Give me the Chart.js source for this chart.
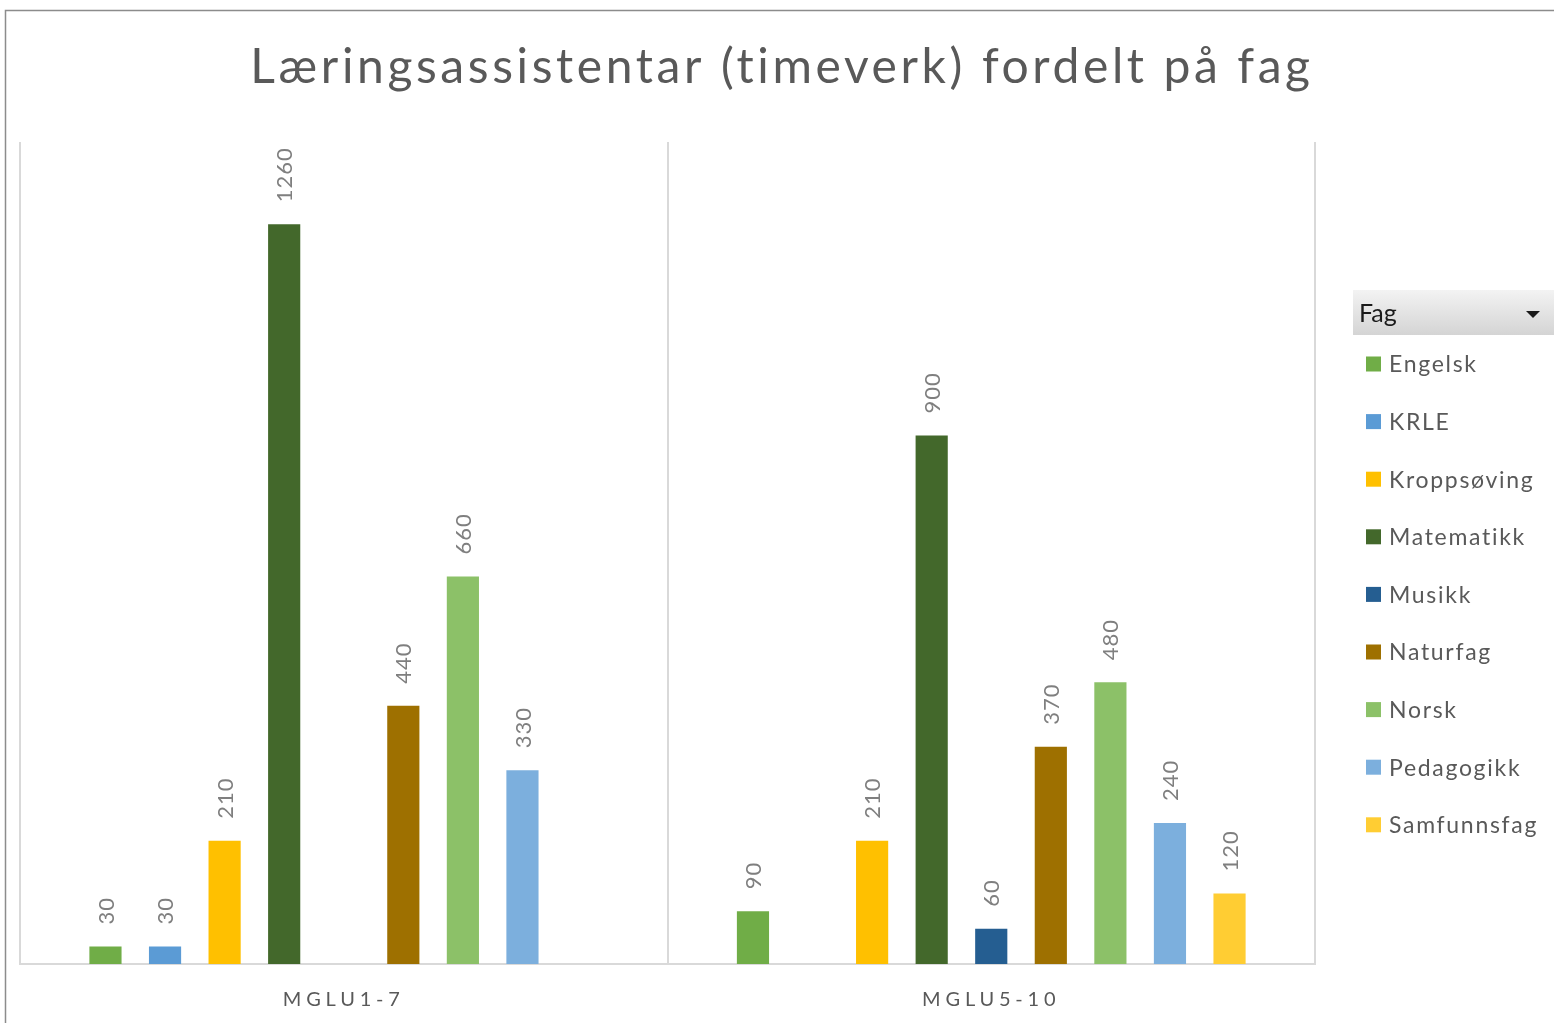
<!DOCTYPE html>
<html>
<head>
<meta charset="utf-8">
<script src="https://cdn.jsdelivr.net/npm/chart.js@4/dist/chart.umd.min.js"></script>
<style>
  html, body { margin: 0; padding: 0; background: #fff; }
  #wrap { position: relative; width: 1554px; height: 1023px; }
</style>
</head>
<body>
<div id="wrap"><canvas id="c"></canvas></div>
<script>
const title = 'Læringsassistentar (timeverk) fordelt på fag';
const legendTitle = 'Fag';
const categories = ['MGLU1-7', 'MGLU5-10'];
const seriesNames = ['Engelsk', 'KRLE', 'Kroppsøving', 'Matematikk', 'Musikk', 'Naturfag', 'Norsk', 'Pedagogikk', 'Samfunnsfag'];
const seriesColors = ['#70AD47', '#5B9BD5', '#FFC000', '#43682B', '#255E91', '#9E7000', '#8CC168', '#7CAFDD', '#FFCD33'];
const engelsk     = [30, 90];
const krle        = [30, null];
const kroppsoving = [210, 210];
const matematikk  = [1260, 900];
const musikk      = [null, 60];
const naturfag    = [440, 370];
const norsk       = [660, 480];
const pedagogikk  = [330, 240];
const samfunnsfag = [null, 120];
const seriesValues = [engelsk, krle, kroppsoving, matematikk, musikk, naturfag, norsk, pedagogikk, samfunnsfag];

const FONT = 'Lato, "Open Sans", sans-serif';

const decor = {
  id: 'decor',
  beforeDraw(chart) {
    const ctx = chart.ctx;
    ctx.save();
    ctx.strokeStyle = '#8c8c8c';
    ctx.lineWidth = 1.5;
    ctx.beginPath();
    ctx.moveTo(5.5, 1023);
    ctx.lineTo(5.5, 10.5);
    ctx.lineTo(1554, 10.5);
    ctx.stroke();
    ctx.restore();
    ctx.letterSpacing = '4.8px';
  },
  afterDraw(chart) {
    const ctx = chart.ctx;
    ctx.save();
    ctx.letterSpacing = '0px';
    // title
    ctx.fillStyle = '#595959';
    ctx.font = '48px ' + FONT;
    ctx.letterSpacing = '3.6px';
    ctx.textAlign = 'center';
    ctx.textBaseline = 'alphabetic';
    ctx.fillText(title, 782, 83);

    // data labels
    ctx.font = '22px ' + FONT;
    ctx.letterSpacing = '1px';
    ctx.fillStyle = '#7f7f7f';
    chart.data.datasets.forEach((ds, i) => {
      const meta = chart.getDatasetMeta(i);
      meta.data.forEach((bar, j) => {
        const v = ds.data[j];
        if (v === null || v === undefined) return;
        ctx.save();
        ctx.translate(bar.x, bar.y - 22);
        ctx.rotate(-Math.PI / 2);
        ctx.textAlign = 'left';
        ctx.textBaseline = 'middle';
        ctx.fillText(String(v), 0, 1);
        ctx.restore();
      });
    });

    // legend header
    const hx = 1353, hy = 290, hw = 201, hh = 45;
    const g = ctx.createLinearGradient(0, hy, 0, hy + hh);
    g.addColorStop(0, '#f3f3f3');
    g.addColorStop(1, '#d4d4d4');
    ctx.fillStyle = g;
    ctx.fillRect(hx, hy, hw, hh);
    ctx.letterSpacing = '0px';
    ctx.fillStyle = '#1a1a1a';
    ctx.font = '25px ' + FONT;
    ctx.textAlign = 'left';
    ctx.textBaseline = 'middle';
    ctx.fillText(legendTitle, 1359, 314);
    ctx.beginPath();
    ctx.moveTo(1526, 311);
    ctx.lineTo(1540, 311);
    ctx.lineTo(1533, 318);
    ctx.closePath();
    ctx.fill();

    // legend items
    ctx.font = '23px ' + FONT;
    ctx.letterSpacing = '1.7px';
    chart.data.datasets.forEach((ds, i) => {
      const cy = 364 + i * 57.6;
      ctx.fillStyle = ds.backgroundColor;
      ctx.fillRect(1366, cy - 7.5, 15, 15);
      ctx.fillStyle = '#595959';
      ctx.fillText(ds.label, 1389, cy + 1);
    });
    ctx.restore();
  }
};

const chart = new Chart(document.getElementById('c'), {
  type: 'bar',
  data: {
    labels: categories,
    datasets: seriesNames.map((name, i) => ({
      label: name,
      data: seriesValues[i],
      backgroundColor: seriesColors[i],
      borderWidth: 0,
      categoryPercentage: 0.828,
      barPercentage: 0.54
    }))
  },
  options: {
    responsive: true,
    maintainAspectRatio: false,
    animation: false,
    layout: { padding: { left: 20, right: 239, top: 142, bottom: 0 } },
    plugins: {
      legend: { display: false },
      tooltip: { enabled: false },
      title: { display: false }
    },
    scales: {
      x: {
        grid: { display: true, offset: true, color: '#d9d9d9', lineWidth: 2, drawTicks: false },
        border: { display: true, color: '#d9d9d9', width: 2 },
        ticks: { color: '#595959', font: { family: FONT, size: 20 }, padding: 24 },
        afterFit(s) { s.height = 59; }
      },
      y: {
        display: false,
        min: 0,
        max: 1400
      }
    }
  },
  plugins: [decor]
});
</script>
</body>
</html>
